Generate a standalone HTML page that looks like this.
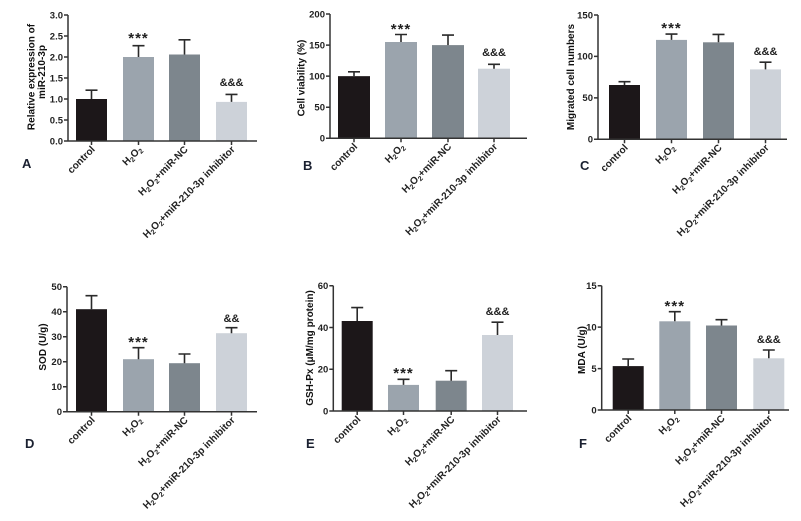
<!DOCTYPE html>
<html><head><meta charset="utf-8"><style>
html,body{margin:0;padding:0;background:#fff;}
svg{display:block;font-family:"Liberation Sans",Arial,sans-serif;}
.ax{stroke:#333;stroke-width:1.5;fill:none;}
.tk{font-size:9.5px;font-weight:bold;fill:#222;text-anchor:end;}
.xl{font-size:10px;font-weight:bold;fill:#222;text-anchor:end;}
.yt{font-size:10px;font-weight:bold;fill:#111;text-anchor:middle;}
.eb{stroke:#2a2a2a;stroke-width:1.6;fill:none;}
.st{font-size:15px;font-weight:bold;fill:#222;text-anchor:middle;}
.am{font-size:11px;font-weight:bold;fill:#222;text-anchor:middle;}
.pl{font-size:13px;font-weight:bold;fill:#1a2030;}
.c1{fill:#1c1719}.c2{fill:#9ba4ad}.c3{fill:#7d868d}.c4{fill:#cdd2d9}
</style></head><body>
<svg width="801" height="521" viewBox="0 0 801 521" xmlns="http://www.w3.org/2000/svg">
<rect width="801" height="521" fill="#fff"/>

<!-- Panel A -->
<rect class="c1" x="76" y="99" width="31" height="42"/>
<rect class="c2" x="123" y="57" width="31" height="84"/>
<rect class="c3" x="169" y="54.5" width="31" height="86.5"/>
<rect class="c4" x="216" y="101.9" width="31" height="39.1"/>
<path class="eb" d="M91.5 99V90.2M85.5 90.2H97.5M138.5 57V45.7M132.5 45.7H144.5M184.5 54.5V39.8M178.5 39.8H190.5M231.5 101.9V94.4M225.5 94.4H237.5"/>
<path class="ax" d="M68 15V141H257M64 15H68M64 36H68M64 57H68M64 78H68M64 99H68M64 120H68M64 141H68M91.5 141V145M138.5 141V145M184.5 141V145M231.5 141V145"/>
<text class="tk" x="63" y="18.3">3.0</text><text class="tk" x="63" y="39.3">2.5</text><text class="tk" x="63" y="60.3">2.0</text><text class="tk" x="63" y="81.3">1.5</text><text class="tk" x="63" y="102.3">1.0</text><text class="tk" x="63" y="123.3">0.5</text><text class="tk" x="63" y="144.3">0.0</text>
<text class="yt" transform="translate(34.5,77) rotate(-90)">Relative expression of</text>
<text class="yt" transform="translate(45,72) rotate(-90)">miR-210-3p</text>
<text class="st" x="138.5" y="43" letter-spacing="1">***</text>
<text class="am" x="231.5" y="86">&amp;&amp;&amp;</text>
<text class="xl" transform="translate(95.5,150) rotate(-45)">control</text>
<text class="xl" transform="translate(142.5,150) rotate(-45)">H<tspan font-size="7" dy="2">2</tspan><tspan dy="-2">O</tspan><tspan font-size="7" dy="2">2</tspan></text>
<text class="xl" transform="translate(188.5,150) rotate(-45)">H<tspan font-size="7" dy="2">2</tspan><tspan dy="-2">O</tspan><tspan font-size="7" dy="2">2</tspan><tspan dy="-2">+miR-NC</tspan></text>
<text class="xl" transform="translate(235.5,150) rotate(-45)">H<tspan font-size="7" dy="2">2</tspan><tspan dy="-2">O</tspan><tspan font-size="7" dy="2">2</tspan><tspan dy="-2">+miR-210-3p inhibitor</tspan></text>
<text class="pl" x="22" y="168">A</text>

<!-- Panel B -->
<rect class="c1" x="338" y="76.15" width="32" height="62.15"/>
<rect class="c2" x="385" y="42" width="32" height="96.3"/>
<rect class="c3" x="432" y="45.1" width="32" height="93.2"/>
<rect class="c4" x="478" y="68.7" width="32" height="69.6"/>
<path class="eb" d="M354 76.15V71.8M348 71.8H360M401 42V34.5M395 34.5H407M448 45.1V35.1M442 35.1H454M494 68.7V64.3M488 64.3H500"/>
<path class="ax" d="M330 14V138.3H527M326 14H330M326 45.1H330M326 76.15H330M326 107.2H330M326 138.3H330M354 138.3V142.3M401 138.3V142.3M448 138.3V142.3M494 138.3V142.3"/>
<text class="tk" x="325" y="17.3">200</text><text class="tk" x="325" y="48.4">150</text><text class="tk" x="325" y="79.45">100</text><text class="tk" x="325" y="110.5">50</text><text class="tk" x="325" y="141.6">0</text>
<text class="yt" transform="translate(304.5,78) rotate(-90)">Cell viability (%)</text>
<text class="st" x="401" y="34" letter-spacing="1">***</text>
<text class="am" x="494" y="56">&amp;&amp;&amp;</text>
<text class="xl" transform="translate(358,147.3) rotate(-45)">control</text>
<text class="xl" transform="translate(405,147.3) rotate(-45)">H<tspan font-size="7" dy="2">2</tspan><tspan dy="-2">O</tspan><tspan font-size="7" dy="2">2</tspan></text>
<text class="xl" transform="translate(452,147.3) rotate(-45)">H<tspan font-size="7" dy="2">2</tspan><tspan dy="-2">O</tspan><tspan font-size="7" dy="2">2</tspan><tspan dy="-2">+miR-NC</tspan></text>
<text class="xl" transform="translate(498,147.3) rotate(-45)">H<tspan font-size="7" dy="2">2</tspan><tspan dy="-2">O</tspan><tspan font-size="7" dy="2">2</tspan><tspan dy="-2">+miR-210-3p inhibitor</tspan></text>
<text class="pl" x="303" y="170">B</text>

<!-- Panel C -->
<rect class="c1" x="609" y="85" width="31" height="54.3"/>
<rect class="c2" x="656" y="39.9" width="31" height="99.4"/>
<rect class="c3" x="703" y="42.3" width="31" height="97"/>
<rect class="c4" x="750" y="69.4" width="31" height="69.9"/>
<path class="eb" d="M624.5 85V81.7M618.5 81.7H630.5M671.5 39.9V34.1M665.5 34.1H677.5M718.5 42.3V34.4M712.5 34.4H724.5M765.5 69.4V62.2M759.5 62.2H771.5"/>
<path class="ax" d="M598 15V139.3H787M594 15H598M594 56.4H598M594 97.9H598M594 139.3H598M624.5 139.3V143.3M671.5 139.3V143.3M718.5 139.3V143.3M765.5 139.3V143.3"/>
<text class="tk" x="593" y="18.3">150</text><text class="tk" x="593" y="59.7">100</text><text class="tk" x="593" y="101.2">50</text><text class="tk" x="593" y="142.6">0</text>
<text class="yt" transform="translate(574,77) rotate(-90)">Migrated cell numbers</text>
<text class="st" x="671.5" y="33" letter-spacing="1">***</text>
<text class="am" x="765.5" y="55">&amp;&amp;&amp;</text>
<text class="xl" transform="translate(628.5,148.3) rotate(-45)">control</text>
<text class="xl" transform="translate(675.5,148.3) rotate(-45)">H<tspan font-size="7" dy="2">2</tspan><tspan dy="-2">O</tspan><tspan font-size="7" dy="2">2</tspan></text>
<text class="xl" transform="translate(722.5,148.3) rotate(-45)">H<tspan font-size="7" dy="2">2</tspan><tspan dy="-2">O</tspan><tspan font-size="7" dy="2">2</tspan><tspan dy="-2">+miR-NC</tspan></text>
<text class="xl" transform="translate(769.5,148.3) rotate(-45)">H<tspan font-size="7" dy="2">2</tspan><tspan dy="-2">O</tspan><tspan font-size="7" dy="2">2</tspan><tspan dy="-2">+miR-210-3p inhibitor</tspan></text>
<text class="pl" x="580" y="170">C</text>

<!-- Panel D -->
<rect class="c1" x="76" y="309.2" width="31" height="102.5"/>
<rect class="c2" x="123" y="359.2" width="31" height="52.5"/>
<rect class="c3" x="169" y="363.2" width="31" height="48.5"/>
<rect class="c4" x="216" y="333.2" width="31" height="78.5"/>
<path class="eb" d="M91.5 309.2V295.7M85.5 295.7H97.5M138.5 359.2V347.7M132.5 347.7H144.5M184.5 363.2V354M178.5 354H190.5M231.5 333.2V327.7M225.5 327.7H237.5"/>
<path class="ax" d="M67 286.7V411.7H257M63 286.7H67M63 311.7H67M63 336.7H67M63 361.7H67M63 386.7H67M63 411.7H67M91.5 411.7V415.7M138.5 411.7V415.7M184.5 411.7V415.7M231.5 411.7V415.7"/>
<text class="tk" x="62" y="290">50</text><text class="tk" x="62" y="315">40</text><text class="tk" x="62" y="340">30</text><text class="tk" x="62" y="365">20</text><text class="tk" x="62" y="390">10</text><text class="tk" x="62" y="415">0</text>
<text class="yt" transform="translate(46,347) rotate(-90)">SOD (U/g)</text>
<text class="st" x="138.5" y="347" letter-spacing="1">***</text>
<text class="am" x="231.5" y="322">&amp;&amp;</text>
<text class="xl" transform="translate(95.5,420.7) rotate(-45)">control</text>
<text class="xl" transform="translate(142.5,420.7) rotate(-45)">H<tspan font-size="7" dy="2">2</tspan><tspan dy="-2">O</tspan><tspan font-size="7" dy="2">2</tspan></text>
<text class="xl" transform="translate(188.5,420.7) rotate(-45)">H<tspan font-size="7" dy="2">2</tspan><tspan dy="-2">O</tspan><tspan font-size="7" dy="2">2</tspan><tspan dy="-2">+miR-NC</tspan></text>
<text class="xl" transform="translate(235.5,420.7) rotate(-45)">H<tspan font-size="7" dy="2">2</tspan><tspan dy="-2">O</tspan><tspan font-size="7" dy="2">2</tspan><tspan dy="-2">+miR-210-3p inhibitor</tspan></text>
<text class="pl" x="25" y="448">D</text>

<!-- Panel E -->
<rect class="c1" x="341.7" y="321" width="31" height="90"/>
<rect class="c2" x="388" y="384.9" width="31" height="26.1"/>
<rect class="c3" x="435.7" y="380.7" width="31" height="30.3"/>
<rect class="c4" x="482" y="335" width="31" height="76"/>
<path class="eb" d="M357.2 321V307.6M351.2 307.6H363.2M403.5 384.9V379.3M397.5 379.3H409.5M451.2 380.7V370.7M445.2 370.7H457.2M497.5 335V322.2M491.5 322.2H503.5"/>
<path class="ax" d="M333.3 285.7V411H527M329.3 285.7H333.3M329.3 327.5H333.3M329.3 369.2H333.3M329.3 411H333.3M357.2 411V415M403.5 411V415M451.2 411V415M497.5 411V415"/>
<text class="tk" x="328.3" y="289">60</text><text class="tk" x="328.3" y="330.8">40</text><text class="tk" x="328.3" y="372.5">20</text><text class="tk" x="328.3" y="414.3">0</text>
<text class="yt" transform="translate(313,348) rotate(-90)">GSH-Px (μM/mg protein)</text>
<text class="st" x="403.5" y="378" letter-spacing="1">***</text>
<text class="am" x="497.5" y="315">&amp;&amp;&amp;</text>
<text class="xl" transform="translate(361.2,420) rotate(-45)">control</text>
<text class="xl" transform="translate(407.5,420) rotate(-45)">H<tspan font-size="7" dy="2">2</tspan><tspan dy="-2">O</tspan><tspan font-size="7" dy="2">2</tspan></text>
<text class="xl" transform="translate(455.2,420) rotate(-45)">H<tspan font-size="7" dy="2">2</tspan><tspan dy="-2">O</tspan><tspan font-size="7" dy="2">2</tspan><tspan dy="-2">+miR-NC</tspan></text>
<text class="xl" transform="translate(501.5,420) rotate(-45)">H<tspan font-size="7" dy="2">2</tspan><tspan dy="-2">O</tspan><tspan font-size="7" dy="2">2</tspan><tspan dy="-2">+miR-210-3p inhibitor</tspan></text>
<text class="pl" x="306" y="448">E</text>

<!-- Panel F -->
<rect class="c1" x="612.7" y="366.1" width="31" height="43.9"/>
<rect class="c2" x="659.3" y="321.3" width="31" height="88.7"/>
<rect class="c3" x="706" y="325.5" width="31" height="84.5"/>
<rect class="c4" x="753.3" y="358.3" width="31" height="51.7"/>
<path class="eb" d="M628.2 366.1V359M622.2 359H634.2M674.8 321.3V311.7M668.8 311.7H680.8M721.5 325.5V319.7M715.5 319.7H727.5M768.8 358.3V350M762.8 350H774.8"/>
<path class="ax" d="M601.7 285.7V410H789M597.7 285.7H601.7M597.7 327.1H601.7M597.7 368.6H601.7M597.7 410H601.7M628.2 410V414M674.8 410V414M721.5 410V414M768.8 410V414"/>
<text class="tk" x="596.7" y="289">15</text><text class="tk" x="596.7" y="330.4">10</text><text class="tk" x="596.7" y="371.9">5</text><text class="tk" x="596.7" y="413.3">0</text>
<text class="yt" transform="translate(585,350) rotate(-90)">MDA (U/g)</text>
<text class="st" x="674.8" y="311" letter-spacing="1">***</text>
<text class="am" x="768.8" y="343">&amp;&amp;&amp;</text>
<text class="xl" transform="translate(632.2,419) rotate(-45)">control</text>
<text class="xl" transform="translate(678.8,419) rotate(-45)">H<tspan font-size="7" dy="2">2</tspan><tspan dy="-2">O</tspan><tspan font-size="7" dy="2">2</tspan></text>
<text class="xl" transform="translate(725.5,419) rotate(-45)">H<tspan font-size="7" dy="2">2</tspan><tspan dy="-2">O</tspan><tspan font-size="7" dy="2">2</tspan><tspan dy="-2">+miR-NC</tspan></text>
<text class="xl" transform="translate(772.8,419) rotate(-45)">H<tspan font-size="7" dy="2">2</tspan><tspan dy="-2">O</tspan><tspan font-size="7" dy="2">2</tspan><tspan dy="-2">+miR-210-3p inhibitor</tspan></text>
<text class="pl" x="579" y="448">F</text>
</svg>
</body></html>
